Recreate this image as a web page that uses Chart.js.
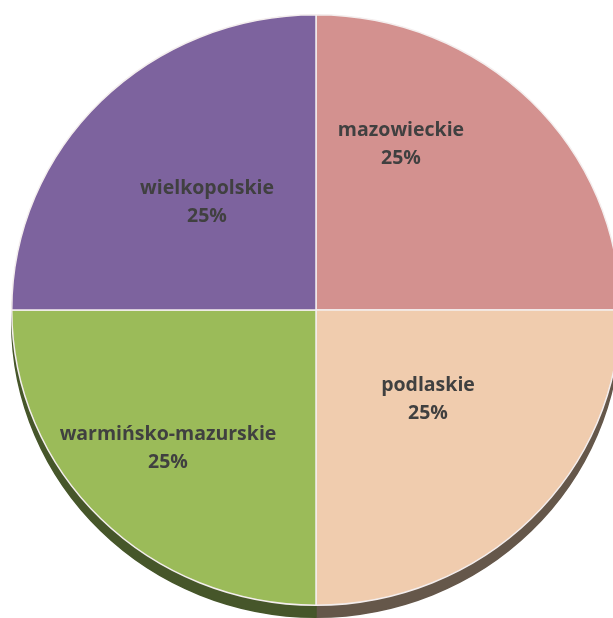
<!DOCTYPE html>
<html>
<head>
<meta charset="utf-8">
<script src="https://cdn.jsdelivr.net/npm/chart.js@4.4.0/dist/chart.umd.min.js"></script>
<style>
  html, body { margin: 0; padding: 0; background: #fff; overflow: hidden; }
  #wrap { position: relative; width: 632px; height: 620px; }
</style>
</head>
<body>
<div id="wrap"><canvas id="myChart"></canvas></div>
<script>
// data
const regions = ['mazowieckie', 'podlaskie', 'warmińsko-mazurskie', 'wielkopolskie'];
const shares = [25, 25, 25, 25];
const topColors = ['#D3918F', '#F0CCAE', '#9BBB59', '#7D639E'];
const sideColors = ['#8a5250', '#65574A', '#46562A', '#4e3d66'];
// label spot for each slice, relative to pie centre (px)
const labelSpots = [[85, -166], [112, 89], [-148, 138], [-109, -108]];

const squash = 296 / 305;
const depth = 12;

function withSquash(chart, ctx) {
    const arc = chart.getDatasetMeta(0).data[0];
    ctx.translate(0, arc.y);
    ctx.scale(1, squash);
    ctx.translate(0, -arc.y);
}

const pie3d = {
    id: 'pie3d',
    beforeDatasetsDraw(chart) {
        const ctx = chart.ctx;
        const arcs = chart.getDatasetMeta(0).data;
        ctx.save();
        ctx.translate(0, depth);
        withSquash(chart, ctx);
        arcs.forEach(function(a, i) {
            const bg = a.options.backgroundColor, bc = a.options.borderColor;
            a.options.backgroundColor = sideColors[i];
            a.options.borderColor = sideColors[i];
            a.draw(ctx);
            a.options.backgroundColor = bg;
            a.options.borderColor = bc;
        });
        ctx.restore();
        ctx.save();
        withSquash(chart, ctx);
    },
    afterDatasetsDraw(chart) {
        const ctx = chart.ctx;
        ctx.restore();
        const arcs = chart.getDatasetMeta(0).data;
        const total = shares.reduce(function(s, v) { return s + v; }, 0);
        ctx.save();
        ctx.fillStyle = '#404040';
        ctx.font = 'bold 19.5px "Open Sans", sans-serif';
        ctx.textAlign = 'center';
        ctx.textBaseline = 'middle';
        arcs.forEach(function(a, i) {
            const x = a.x + labelSpots[i][0];
            const y = a.y + labelSpots[i][1];
            ctx.fillText(regions[i], x, y - 14);
            ctx.fillText(Math.round(shares[i] / total * 100) + '%', x, y + 14);
        });
        ctx.restore();
    }
};

const ctx = document.getElementById('myChart').getContext('2d');
const myChart = new Chart(ctx, {
    type: 'pie',
    data: {
        labels: regions,
        datasets: [{
            data: shares,
            backgroundColor: topColors,
            borderColor: '#f4eeee',
            borderWidth: 1.5,
            clip: false
        }]
    },
    options: {
        responsive: true,
        maintainAspectRatio: false,
        animation: false,
        layout: { padding: { top: 5, bottom: 5, left: 6, right: 6 } },
        plugins: {
            legend: { display: false },
            tooltip: { enabled: false }
        }
    },
    plugins: [pie3d]
});
</script>
</body>
</html>
